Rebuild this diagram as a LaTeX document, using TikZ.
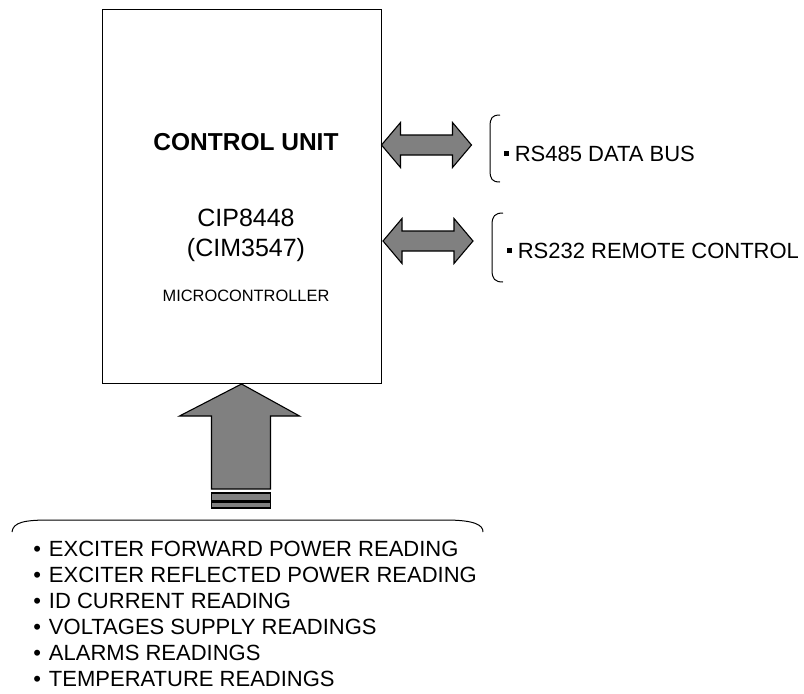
\documentclass[tikz,border=0pt]{standalone}
\usepackage{fontspec}
\setmainfont{Liberation Sans}
\usepackage{tikz}
\usetikzlibrary{positioning}
\usetikzlibrary{calc}
\definecolor{arrowgray}{RGB}{128,128,128}

\begin{document}
\begin{tikzpicture}[
            x = 1pt, y = -1pt, % one unit is one pixel, downwards
            semithick, % line style
            fat/.style = {draw, line width = 1.1pt, fill = arrowgray, line join = miter},
            brk/.style = {draw, line width = 1pt},
            label/.style = {anchor = base west, font = \fontsize{22}{26}\selectfont, inner sep = 0pt}
            ]

        \useasboundingbox (0,0) rectangle (804,694);

	% control unit
	\node[draw, line width = 1pt, minimum width = 279pt, minimum height = 374pt, inner sep = 0pt] (cu) at (241.5,196.5) {};
	\node[anchor = base, inner sep = 0pt, font = \fontsize{24.5}{26}\selectfont\bfseries] (name) at (246,150) {CONTROL UNIT};
	\node[anchor = base, inner sep = 0pt, font = \fontsize{25}{30}\selectfont] (cip) at (246,226) {CIP8448};
	\node[anchor = base, inner sep = 0pt, font = \fontsize{25}{30}\selectfont] (cim) at (246,256) {(CIM3547)};
	\node[anchor = base, inner sep = 0pt, font = \fontsize{16.4}{20}\selectfont] (micro) at (246,301) {MICROCONTROLLER};

	% serial lines
	\node[label] (rs485) at (504,161) {\rule[5.5pt]{4.5pt}{4.5pt}\hspace{6pt}RS485 DATA BUS};
	\node[label] (rs232) at (507,258) {\rule[5.5pt]{4.5pt}{4.5pt}\hspace{6pt}RS232 REMOTE CONTROL};

	\draw[brk] (500,115) .. controls (492,115) and (490,118) .. (490,127) -- (490,170) .. controls (490,179) and (492,182) .. (500,182);
	\draw[brk] (503,213) .. controls (495,213) and (492,216) .. (492,225) -- (492,270) .. controls (492,279) and (495,282) .. (503,282);

	\coordinate (a1) at (cu.east |- 0,145);
	\coordinate (a2) at (cu.east |- 0,241);
	\draw[fat] (a1) -- ++(19,-22.5) -- ++(0,12.5) -- ++(52,0) -- ++(0,-12.5) -- ++(19,22.5)
	      -- ++(-19,22.5) -- ++(0,-12.5) -- ++(-52,0) -- ++(0,12.5) -- cycle;
	\draw[fat] ([xshift=1.5pt]a2) -- ++(19,-22.5) -- ++(0,12.5) -- ++(52,0) -- ++(0,-12.5) -- ++(19,22.5)
	      -- ++(-19,22.5) -- ++(0,-12.5) -- ++(-52,0) -- ++(0,12.5) -- cycle;

	% readings
	\draw[fat] (cu.south) -- ++(58,32) -- ++(-29,0) -- ++(0,73) -- ++(-59,0) -- ++(0,-73) -- ++(-32,0) -- cycle;
	\draw[fat] ($(cu.south)+(-30,109)$) rectangle ++(59,8);
	\draw[fat] ($(cu.south)+(-30,118)$) rectangle ++(59,6);

	\draw[brk] (12,532) .. controls (13,522) and (25,520) .. (50,520) -- (445,520) .. controls (475,520) and (483,525) .. (483,532);

	\foreach \txt [count=\i] in {EXCITER FORWARD POWER READING, EXCITER REFLECTED POWER READING,
	      ID CURRENT READING, VOLTAGES SUPPLY READINGS, ALARMS READINGS, TEMPERATURE READINGS}
	  \node[label] (read\i) at (33,{556+26*(\i-1)}) {•\hspace{8pt}\txt};

\end{tikzpicture}
\end{document}
